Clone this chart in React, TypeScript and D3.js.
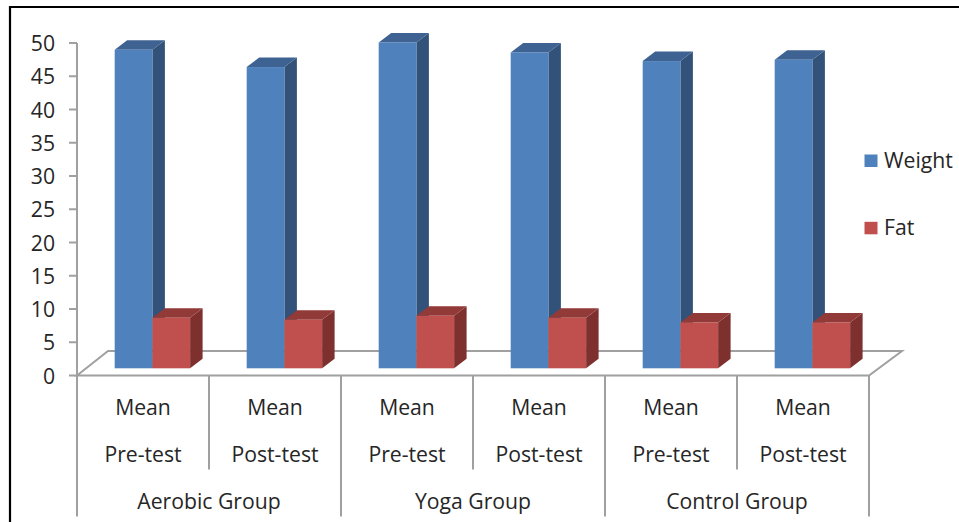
import React from "react";
import * as d3 from "d3";

const W = 959, H = 522;
const categories = ["Pre-test", "Post-test", "Pre-test", "Post-test", "Pre-test", "Post-test"];
const topLabel = "Mean";
const groups = ["Aerobic Group", "Yoga Group", "Control Group"];
const weight = [47.9, 45.3, 49, 47.5, 46.2, 46.4];
const fat = [7.6, 7.3, 7.9, 7.6, 6.9, 6.9];
const ticks = [0, 5, 10, 15, 20, 25, 30, 35, 40, 45, 50];
const seriesNames = ["Weight", "Fat"];
const colors = { Weight: ["#4f81bd", "#3e6291", "#325279"], Fat: ["#c0504d", "#913a38", "#7d302e"] } as Record<string, string[]>;

const FONT = "'Open Sans', 'Noto Sans', sans-serif";
const GRAY = "#a0a0a0";
const TXT = "#262626";
const FS = 21.2;

export default function App() {
  const left = 77, right = 869, y0 = 375.5, yTop = 43;
  const dx = 12.5, dy = 9.5;
  const baseY = 368.3;
  const y = d3.scaleLinear().domain([0, 50]).range([y0, yTop]);
  const x = d3.scaleBand<number>().domain(d3.range(6)).range([left, right]);
  const unit = y(0) - y(1);
  const barW = 37.7, pad = 37.7;

  const bar = (i: number, v: number, offset: number, c: string[], key: string) => {
    const x0 = x(i)! + pad + offset;
    const x1 = x0 + barW;
    const t = baseY - v * unit;
    const path = d3.path();
    path.moveTo(x0, t); path.lineTo(x0 + dx, t - dy); path.lineTo(x1 + dx, t - dy); path.lineTo(x1, t); path.closePath();
    const side = d3.path();
    side.moveTo(x1, t); side.lineTo(x1 + dx, t - dy); side.lineTo(x1 + dx, baseY - dy); side.lineTo(x1, baseY); side.closePath();
    return (
      <g key={key}>
        <path d={side.toString()} fill={c[2]} />
        <path d={path.toString()} fill={c[1]} />
        <rect x={x0} y={t} width={barW} height={baseY - t} fill={c[0]} />
      </g>
    );
  };

  const floor = (d3.line()([[left, y0], [left + 31, 351], [right + 33, 351], [right, y0]]) as string) + "Z";
  const gx = [0, 2, 4, 6].map((i) => (i === 6 ? right : x(i)!));
  const cx = [1, 3, 5].map((i) => x(i)!);

  return (
    <svg width={W} height={H} viewBox={`0 0 ${W} ${H}`} style={{ position: "absolute", left: 0, top: 0, background: "#fff" }} fontFamily={FONT}>
      <path d={`M10 522 V7 H959`} fill="none" stroke="#000" strokeWidth={2.2} />
      <path d={floor} fill="none" stroke={GRAY} strokeWidth={2} />
      <line x1={left} x2={left} y1={yTop} y2={y0} stroke={GRAY} strokeWidth={2} />
      {ticks.map((t) => (
        <g key={t}>
          <line x1={69} x2={left} y1={y(t)} y2={y(t)} stroke={GRAY} strokeWidth={2} />
          <text x={55} y={y(t) + 8.2} textAnchor="end" fontSize={FS} fill={TXT}>{t}</text>
        </g>
      ))}
      {gx.map((g) => <line key={g} x1={g} x2={g} y1={y0} y2={516.5} stroke={GRAY} strokeWidth={2} />)}
      {cx.map((g) => <line key={g} x1={g} x2={g} y1={y0} y2={469.5} stroke={GRAY} strokeWidth={2} />)}
      {categories.map((c, i) => (
        <g key={i}>
          {bar(i, weight[i], 0, colors.Weight, "w" + i)}
          {bar(i, fat[i], barW, colors.Fat, "f" + i)}
          <text x={x(i)! + x.bandwidth() / 2} y={414.5} textAnchor="middle" fontSize={FS} fill={TXT}>{topLabel}</text>
          <text x={x(i)! + x.bandwidth() / 2} y={461.5} textAnchor="middle" fontSize={FS} fill={TXT}>{c}</text>
        </g>
      ))}
      {groups.map((g, i) => (
        <text key={g} x={(gx[i] + gx[i + 1]) / 2} y={509} textAnchor="middle" fontSize={FS} fill={TXT}>{g}</text>
      ))}
      {seriesNames.map((s, i) => (
        <g key={s}>
          <rect x={864.5} y={154.5 + i * 67.3} width={13} height={12.5} fill={colors[s][0]} />
          <text x={884} y={167.5 + i * 67.3} fontSize={FS} fill={TXT}>{s}</text>
        </g>
      ))}
    </svg>
  );
}
